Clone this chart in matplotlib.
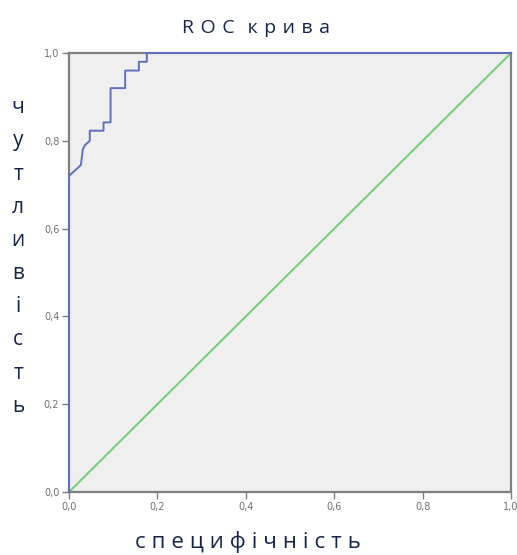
import matplotlib
matplotlib.use("Agg")
import matplotlib.pyplot as plt

# ROC curve points (1 - specificity, sensitivity)
fpr = [0.0, 0.0, 0.027, 0.031, 0.036, 0.047, 0.047, 0.078, 0.078, 0.094, 0.094,
       0.127, 0.127, 0.158, 0.158, 0.176, 0.176, 1.0]
tpr = [0.0, 0.72, 0.745, 0.78, 0.79, 0.80, 0.823, 0.823, 0.842, 0.842, 0.92,
       0.92, 0.96, 0.96, 0.98, 0.98, 1.0, 1.0]
ref_line = [0.0, 1.0]
ticks = [0.0, 0.2, 0.4, 0.6, 0.8, 1.0]
tick_labels = ["0,0", "0,2", "0,4", "0,6", "0,8", "1,0"]

title_words = ["ROC", "крива"]
xlabel_text = "специфічність"
ylabel_text = "чутливість"

text_color = "#17254a"
font = "Open Sans"

fig = plt.figure(figsize=(5.17, 5.55), dpi=100)
ax = fig.add_axes([0.1335, 0.1135, 0.855, 0.791])
ax.set_facecolor("#efefef")

ax.plot(ref_line, ref_line, color="#6fcf73", lw=1.4, zorder=2)
ax.plot(fpr, tpr, color="#6070c0", lw=1.4, zorder=3, clip_on=False)

ax.set_xlim(0, 1)
ax.set_ylim(0, 1)
ax.set_xticks(ticks)
ax.set_xticklabels(tick_labels)
ax.set_yticks(ticks)
ax.set_yticklabels(tick_labels)
ax.tick_params(direction="out", length=5, width=1, color="#808080",
               labelsize=7, labelcolor="#707070", pad=2)
for s in ax.spines.values():
    s.set_color("#808080")
    s.set_linewidth(1.6)

# spaced-out captions
def spaced(s, gap):
    return gap.join(s)

g = "\u2009\u2009"
title = (g * 2).join(spaced(w, g) for w in title_words)
fig.text(0.495, 0.949, title, ha="center", va="center", fontsize=14,
         color=text_color, family=[font, "DejaVu Sans"])
fig.text(0.48, 0.024, spaced(xlabel_text, "\u2009\u200a"), ha="center",
         va="center", fontsize=16, color=text_color,
         family=[font, "DejaVu Sans"])
fig.text(0.035, 0.537, "\n".join(ylabel_text), ha="center", va="center",
         fontsize=15, color=text_color, linespacing=1.76,
         family=[font, "DejaVu Sans"])

fig.savefig("out.png", dpi=100)
